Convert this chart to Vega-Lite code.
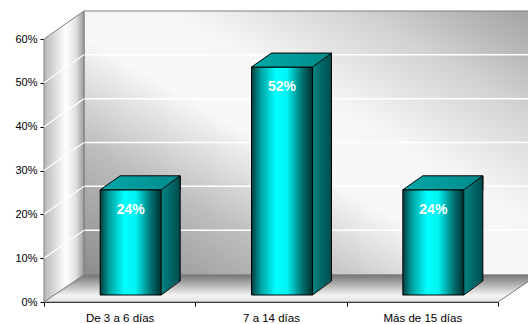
{
  "$schema": "https://vega.github.io/schema/vega-lite/v6.json",
  "width": 454,
  "height": 263,
  "autosize": "none",
  "padding": {"left": 44, "top": 39, "right": 30, "bottom": 22},
  "background": "white",
  "config": {"view": {"stroke": null}},
  "datasets": {
    "bars": [
      {"cat": "De 3 a 6 días", "v": 0.24},
      {"cat": "7 a 14 días", "v": 0.52},
      {"cat": "Más de 15 días", "v": 0.24}
    ],
    "grid": [{"g": 0.1}, {"g": 0.2}, {"g": 0.3}, {"g": 0.4}, {"g": 0.5}],
    "one": [{"w": "wall"}]
  },
  "layer": [
    {
      "data": {"name": "one"},
      "mark": {"type": "rect", "xOffset": 40, "x2Offset": 40, "yOffset": -28, "y2Offset": -27, "stroke": "#7f7f7f", "strokeWidth": 1,
        "fill": {"gradient": "linear", "x1": 0, "y1": 1, "x2": 1, "y2": 0, "stops": [
          {"offset": 0, "color": "#8c8c8c"}, {"offset": 0.25, "color": "#bdbdbd"}, {"offset": 0.45, "color": "#f8f8f8"}, {"offset": 0.6, "color": "#f6f6f6"}, {"offset": 0.8, "color": "#d2d2d2"}, {"offset": 1, "color": "#a0a0a0"}]}},
      "encoding": {
        "x": {"value": 0}, "x2": {"value": "width"},
        "y": {"datum": 0.6, "type": "quantitative", "scale": {"domain": [0, 0.6], "nice": false}, "axis": {"values": [0, 0.1, 0.2, 0.3, 0.4, 0.5, 0.6], "format": ".0%", "title": null, "grid": false, "domainColor": "black", "tickColor": "black", "tickSize": 4, "labelPadding": 3, "labelFont": "Liberation Sans", "labelFontSize": 11, "labelColor": "black"}},
        "y2": {"datum": 0}
      }
    },
    {
      "data": {"name": "grid"},
      "mark": {"type": "rule", "xOffset": 40, "x2Offset": 40, "yOffset": -28, "color": "white", "strokeWidth": 1.5},
      "encoding": {"x": {"value": 0}, "x2": {"value": "width"}, "y": {"field": "g", "type": "quantitative"}}
    },
    {
      "data": {"name": "one"},
      "mark": {"type": "point", "shape": "M0 0 L40 -27 L40 -291 L0 -263 Z", "size": 4, "filled": true, "opacity": 1, "stroke": "#7f7f7f", "strokeWidth": 1,
        "fill": {"gradient": "linear", "x1": 0, "y1": 0, "x2": 1, "y2": 0, "stops": [
          {"offset": 0, "color": "#b8b8b8"}, {"offset": 0.55, "color": "#ffffff"}, {"offset": 0.8, "color": "#e0e0e0"}, {"offset": 1, "color": "#9a9a9a"}]}},
      "encoding": {"x": {"value": 0}, "y": {"datum": 0, "type": "quantitative"}}
    },
    {
      "data": {"name": "grid"},
      "mark": {"type": "point", "shape": "M0 0 L40 -28", "size": 4, "filled": false, "opacity": 1, "stroke": "white", "strokeWidth": 1.2},
      "encoding": {"x": {"value": 0}, "y": {"field": "g", "type": "quantitative"}}
    },
    {
      "data": {"name": "one"},
      "mark": {"type": "point", "shape": "M0 0 L40 -27 L494 -27 L454 0 Z", "size": 4, "filled": true, "opacity": 1, "stroke": "#7f7f7f", "strokeWidth": 1,
        "fill": {"gradient": "linear", "x1": 0, "y1": 0, "x2": 0, "y2": 1, "stops": [
          {"offset": 0, "color": "#767676"}, {"offset": 0.3, "color": "#a8a8a8"}, {"offset": 0.75, "color": "#f4f4f4"}, {"offset": 1, "color": "#e2e2e2"}]}},
      "encoding": {"x": {"value": 0}, "y": {"datum": 0, "type": "quantitative"}}
    },
    {
      "data": {"name": "bars"},
      "encoding": {
        "x": {"field": "cat", "type": "nominal", "sort": null, "scale": {"paddingInner": 0, "paddingOuter": 0},
          "axis": {"title": null, "labelAngle": 0, "tickBand": "extent", "domainColor": "black", "tickColor": "black", "tickSize": 4, "labelPadding": 6, "labelFont": "Liberation Sans", "labelFontSize": 11.5, "labelColor": "black"}}
      },
      "layer": [
        {
          "mark": {"type": "bar", "width": 19, "xOffset": 51, "yOffset": -7, "y2Offset": -21,
            "fill": {"gradient": "linear", "x1": 0, "y1": 0, "x2": 1, "y2": 0, "stops": [{"offset": 0, "color": "#008585"}, {"offset": 1, "color": "#004a4a"}]}},
          "encoding": {"y": {"field": "v", "type": "quantitative"}, "y2": {"datum": 0}}
        },
        {
          "mark": {"type": "point", "shape": "M41.5 -22 L41.5 -7 L60.5 -22 Z", "size": 4, "filled": true, "opacity": 1, "strokeWidth": 0,
            "fill": {"gradient": "linear", "x1": 0, "y1": 0, "x2": 1, "y2": 0, "stops": [{"offset": 0, "color": "#008585"}, {"offset": 1, "color": "#004a4a"}]}},
          "encoding": {"y": {"datum": 0, "type": "quantitative"}}
        },
        {
          "mark": {"type": "point", "shape": "M41.5 -7 L60.5 -21", "size": 4, "filled": false, "opacity": 1, "stroke": "black", "strokeWidth": 1},
          "encoding": {"y": {"datum": 0, "type": "quantitative"}}
        },
        {
          "mark": {"type": "rule", "xOffset": 60.5, "yOffset": -21, "y2Offset": -21, "color": "black", "strokeWidth": 1},
          "encoding": {"y": {"field": "v", "type": "quantitative"}, "y2": {"datum": 0}}
        },
        {
          "mark": {"type": "bar", "width": {"band": 0.403}, "xOffset": 11, "yOffset": -7, "y2Offset": -7, "stroke": "black", "strokeWidth": 1,
            "fill": {"gradient": "linear", "x1": 0, "y1": 0, "x2": 1, "y2": 0, "stops": [
              {"offset": 0, "color": "#003c3c"}, {"offset": 0.15, "color": "#00a0a0"}, {"offset": 0.4, "color": "#00ffff"}, {"offset": 0.58, "color": "#00f4f4"}, {"offset": 0.82, "color": "#007777"}, {"offset": 1, "color": "#002e2e"}]}},
          "encoding": {"y": {"field": "v", "type": "quantitative"}, "y2": {"datum": 0}}
        },
        {
          "mark": {"type": "point", "shape": "M-19.5 -7 L41.5 -7 L60.5 -21 L0.5 -21 Z", "size": 4, "filled": true, "opacity": 1, "strokeWidth": 0,
            "fill": {"gradient": "linear", "x1": 0, "y1": 0, "x2": 1, "y2": 0, "stops": [{"offset": 0, "color": "#00a8a8"}, {"offset": 1, "color": "#008a8a"}]}},
          "encoding": {"y": {"field": "v", "type": "quantitative"}}
        },
        {
          "mark": {"type": "point", "shape": "M41.5 -6.5 L41.5 -7 L60.5 -21 L60.5 -6.5 Z", "size": 4, "filled": true, "opacity": 1, "strokeWidth": 0,
            "fill": {"gradient": "linear", "x1": 0, "y1": 0, "x2": 1, "y2": 0, "stops": [{"offset": 0, "color": "#008585"}, {"offset": 1, "color": "#004a4a"}]}},
          "encoding": {"y": {"field": "v", "type": "quantitative"}}
        },
        {
          "mark": {"type": "point", "shape": "M-19.5 -7 L0.5 -21 L60.5 -21 L41.5 -7 M60.5 -21 L60.5 -6.5 M-19.5 -7 L41.5 -7", "size": 4, "filled": false, "opacity": 1, "stroke": "black", "strokeWidth": 1},
          "encoding": {"y": {"field": "v", "type": "quantitative"}}
        },
        {
          "mark": {"type": "text", "xOffset": 11, "yOffset": 13, "color": "white", "font": "Liberation Sans", "fontSize": 14, "fontWeight": "bold", "baseline": "middle", "align": "center"},
          "encoding": {"y": {"field": "v", "type": "quantitative"}, "text": {"field": "v", "type": "quantitative", "format": ".0%"}}
        }
      ]
    }
  ]
}
